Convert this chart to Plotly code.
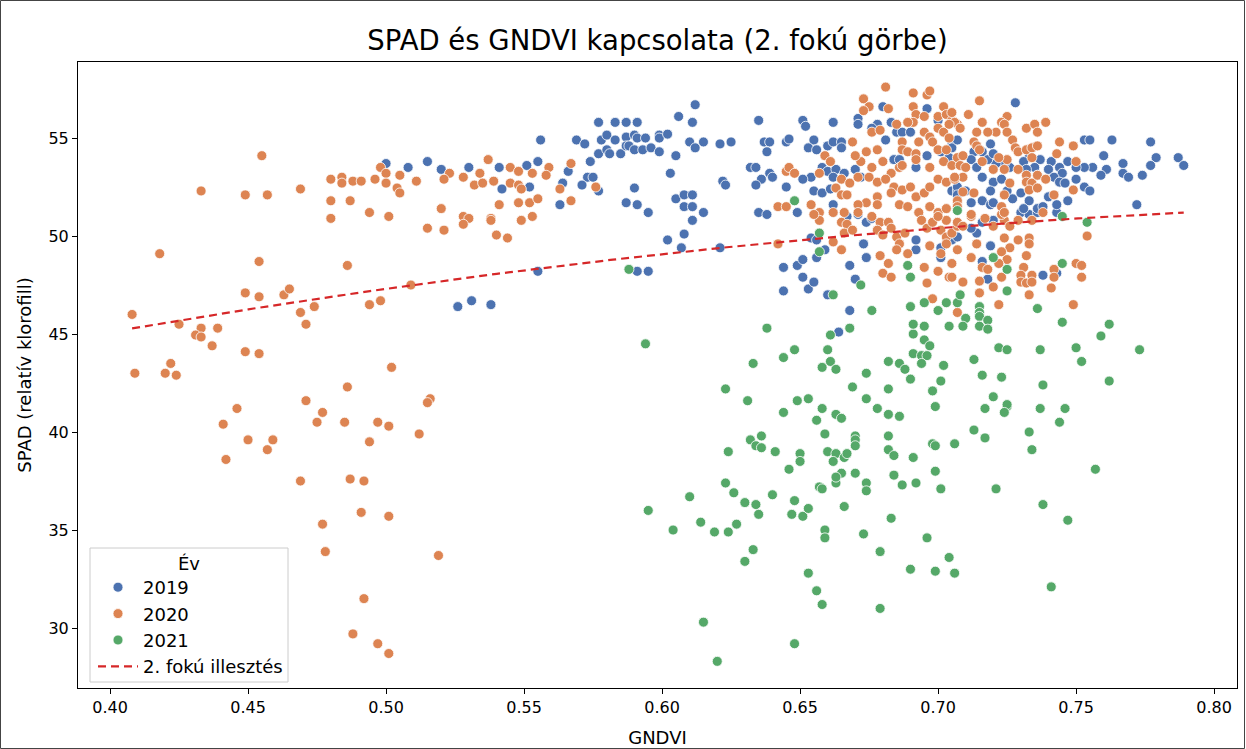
import numpy as np
import plotly.graph_objects as go

# (GNDVI, SPAD) measurements per year
pts_2019 = [
    (0.500, 53.7), (0.508, 53.5), (0.515, 53.8), (0.520, 53.4), (0.530, 53.5), (0.541, 53.5),
    (0.542, 52.4), (0.552, 52.5), (0.551, 53.6), (0.555, 53.8), (0.556, 54.9), (0.564, 52.7),
    (0.566, 53.3), (0.563, 51.6), (0.526, 46.4), (0.531, 46.7), (0.538, 46.5), (0.555, 48.2),
    (0.612, 56.7), (0.606, 56.1), (0.611, 55.8), (0.577, 55.8), (0.583, 55.8), (0.587, 55.8),
    (0.591, 55.8), (0.635, 55.9), (0.651, 55.9),
    (0.569, 54.9), (0.572, 54.7), (0.578, 54.9), (0.580, 55.15), (0.583, 54.9), (0.587, 55.05),
    (0.590, 55.15), (0.591, 55.0), (0.594, 55.0), (0.599, 55.15), (0.599, 55.0), (0.602, 55.2),
    (0.577, 54.2), (0.580, 54.4), (0.581, 54.2), (0.585, 54.2), (0.587, 54.6), (0.588, 54.6),
    (0.590, 54.4), (0.593, 54.4), (0.596, 54.5), (0.599, 54.3),
    (0.605, 54.1), (0.610, 54.8), (0.612, 54.5), (0.615, 54.8), (0.621, 54.7), (0.625, 54.8),
    (0.637, 54.8), (0.639, 54.8), (0.638, 54.3), (0.645, 54.8), (0.646, 54.95),
    (0.574, 53.8), (0.573, 53.0), (0.575, 53.0), (0.571, 52.6), (0.577, 52.3),
    (0.590, 52.45), (0.587, 51.7), (0.591, 51.6), (0.595, 51.2), (0.603, 53.2),
    (0.605, 51.9), (0.608, 52.1), (0.611, 52.1), (0.608, 51.5), (0.611, 51.5), (0.615, 51.2),
    (0.611, 50.8), (0.608, 50.1), (0.602, 49.8), (0.607, 49.4), (0.621, 49.4),
    (0.622, 52.8), (0.623, 52.6), (0.632, 53.5), (0.634, 53.5), (0.639, 53.2), (0.640, 53.0),
    (0.636, 52.9), (0.634, 52.6), (0.645, 52.5), (0.635, 51.2), (0.638, 51.1),
    (0.644, 48.4), (0.649, 48.5), (0.644, 47.2), (0.591, 48.2), (0.595, 48.2),
    (0.651, 47.9), (0.653, 47.3), (0.664, 45.1),
    (0.651, 48.8), (0.655, 47.65), (0.656, 48.9), (0.659, 49.3), (0.668, 48.5), (0.674, 48.9),
    (0.670, 47.8), (0.660, 47.0), (0.668, 46.2), (0.673, 49.6),
    (0.692, 49.3), (0.701, 49.4), (0.705, 49.8), (0.654, 49.9), (0.656, 49.8), (0.692, 49.8),
    (0.701, 48.9), (0.649, 51.2),
    (0.662, 51.2), (0.667, 51.0), (0.671, 51.1), (0.674, 50.7), (0.676, 50.9),
    (0.714, 50.15), (0.712, 50.4), (0.707, 49.95), (0.719, 49.5), (0.738, 48.0), (0.716, 48.7),
    (0.718, 47.8), (0.743, 48.1),
    (0.716, 50.7), (0.720, 50.8), (0.730, 51.2), (0.733, 51.1), (0.736, 51.2), (0.743, 51.2),
    (0.763, 54.9), (0.777, 54.8), (0.760, 54.1), (0.761, 53.4), (0.759, 53.1), (0.767, 53.7),
    (0.767, 53.2), (0.769, 53.0), (0.774, 53.1), (0.779, 54.0), (0.777, 53.6), (0.787, 54.0),
    (0.789, 53.6), (0.772, 51.6),
    (0.728, 56.8), (0.753, 54.9), (0.755, 54.9), (0.756, 53.5), (0.753, 53.5), (0.747, 53.8),
    (0.750, 53.5), (0.744, 53.5), (0.745, 53.2), (0.741, 53.8), (0.740, 53.4), (0.742, 53.0),
    (0.744, 52.75), (0.746, 52.7), (0.750, 52.9), (0.753, 52.5), (0.755, 52.3), (0.747, 51.8),
    (0.743, 51.6),
    (0.737, 53.9), (0.735, 53.5), (0.736, 53.1), (0.733, 54.0), (0.731, 53.8), (0.732, 53.4),
    (0.726, 53.5), (0.724, 53.7), (0.721, 53.7), (0.719, 54.7), (0.716, 54.3), (0.718, 53.9),
    (0.720, 54.2), (0.713, 54.3), (0.712, 53.9), (0.714, 53.5), (0.705, 54.8), (0.705, 54.5),
    (0.707, 53.7), (0.705, 52.3), (0.707, 52.3), (0.710, 52.3),
    (0.716, 53.0), (0.720, 52.75), (0.719, 52.3), (0.723, 52.9), (0.725, 52.3), (0.727, 51.9),
    (0.730, 52.2), (0.733, 51.8), (0.736, 51.4), (0.740, 52.0), (0.738, 51.5), (0.712, 51.7),
    (0.716, 51.8), (0.719, 51.6), (0.720, 51.7), (0.731, 51.4),
    (0.652, 55.6), (0.662, 55.8), (0.671, 56.0), (0.671, 55.7), (0.675, 56.6), (0.680, 56.6),
    (0.696, 56.5), (0.700, 55.9), (0.655, 54.9), (0.653, 54.5), (0.656, 54.4), (0.660, 54.6),
    (0.662, 54.8), (0.665, 54.8), (0.665, 54.5), (0.681, 54.9), (0.683, 55.8), (0.678, 55.7),
    (0.676, 55.5), (0.685, 55.3), (0.687, 55.3), (0.690, 55.3), (0.658, 53.5), (0.660, 53.3),
    (0.663, 53.4), (0.666, 53.2), (0.670, 53.4), (0.672, 53.0), (0.654, 53.0), (0.651, 52.9),
    (0.662, 53.0), (0.655, 52.3), (0.658, 52.2), (0.661, 52.4), (0.662, 51.6), (0.684, 53.9),
    (0.686, 53.9), (0.696, 54.1), (0.692, 53.5), (0.707, 54.9), (0.701, 54.3), (0.704, 54.0),
    (0.707, 52.5), (0.707, 52.1),
]

pts_2020 = [
    (0.455, 54.1), (0.433, 52.3), (0.449, 52.1), (0.457, 52.1), (0.469, 52.4), (0.480, 52.9),
    (0.480, 51.8), (0.480, 50.9), (0.418, 49.1), (0.454, 48.7), (0.449, 47.1), (0.454, 46.9),
    (0.463, 47.0), (0.465, 47.3), (0.408, 46.0), (0.469, 46.1), (0.474, 46.4), (0.471, 45.5),
    (0.425, 45.5), (0.433, 45.3), (0.439, 45.3), (0.431, 44.95), (0.433, 44.85), (0.437, 44.4),
    (0.449, 44.1), (0.454, 44.0), (0.409, 43.0), (0.420, 43.0), (0.424, 42.9), (0.422, 43.5),
    (0.471, 41.6), (0.477, 41.0), (0.475, 40.5), (0.446, 41.2), (0.441, 40.4), (0.450, 39.6),
    (0.459, 39.6), (0.457, 39.1), (0.442, 38.6), (0.469, 37.5), (0.477, 35.3), (0.478, 33.9),
    (0.502, 43.3), (0.486, 42.3), (0.516, 41.7), (0.515, 41.5), (0.485, 40.5), (0.497, 40.5),
    (0.501, 40.3), (0.494, 39.5), (0.512, 39.9), (0.487, 37.6), (0.492, 37.5), (0.491, 35.9),
    (0.501, 35.7), (0.519, 33.7), (0.492, 31.5), (0.488, 29.7), (0.497, 29.2), (0.501, 28.7),
    (0.486, 48.5),
    (0.484, 53.0), (0.484, 52.7), (0.488, 52.8), (0.491, 52.8), (0.487, 51.8), (0.494, 51.2),
    (0.501, 51.0), (0.496, 52.9), (0.498, 53.5), (0.500, 53.2), (0.500, 52.7), (0.505, 53.1),
    (0.504, 52.45), (0.505, 52.2), (0.511, 52.8), (0.523, 53.2), (0.521, 52.9), (0.528, 53.0),
    (0.534, 53.2), (0.532, 52.6), (0.535, 52.7), (0.537, 53.9), (0.539, 52.8), (0.545, 53.5),
    (0.548, 53.3), (0.545, 52.7), (0.548, 52.6), (0.549, 52.4), (0.553, 53.2), (0.559, 53.5),
    (0.558, 53.1), (0.563, 52.4), (0.567, 51.8), (0.567, 53.7),
    (0.520, 51.4), (0.515, 50.4), (0.521, 50.3), (0.528, 51.0), (0.530, 50.9), (0.528, 50.6),
    (0.538, 50.9), (0.538, 50.8), (0.541, 51.6), (0.540, 50.05), (0.544, 49.9), (0.548, 51.7),
    (0.552, 51.7), (0.555, 51.9), (0.549, 50.8), (0.553, 51.0),
    (0.494, 46.5), (0.498, 46.7), (0.509, 47.5),
    (0.576, 52.5), (0.645, 53.3), (0.646, 53.5), (0.642, 51.5), (0.645, 51.5), (0.642, 49.6),
    (0.681, 57.6), (0.691, 57.3), (0.696, 57.2), (0.697, 57.4), (0.673, 57.0), (0.675, 56.6),
    (0.673, 56.4), (0.682, 56.5), (0.691, 56.6), (0.702, 56.6), (0.692, 56.2), (0.695, 56.1),
    (0.691, 55.8), (0.689, 55.8), (0.685, 55.7), (0.700, 56.1), (0.703, 56.2), (0.705, 55.9),
    (0.707, 55.7), (0.676, 55.3), (0.679, 55.4), (0.695, 55.3), (0.697, 55.05), (0.700, 55.5),
    (0.702, 55.3), (0.704, 55.0), (0.669, 54.8), (0.674, 54.3), (0.678, 54.4), (0.672, 53.8),
    (0.670, 54.1), (0.659, 54.1), (0.661, 53.8), (0.687, 54.8), (0.687, 54.4), (0.689, 54.3),
    (0.693, 54.8), (0.692, 54.2), (0.692, 53.9), (0.698, 54.8), (0.700, 54.4), (0.703, 54.4),
    (0.702, 53.8), (0.697, 53.5), (0.705, 53.6), (0.707, 54.0), (0.680, 53.8), (0.676, 53.5),
    (0.683, 53.2), (0.686, 53.5), (0.687, 53.6), (0.648, 53.2), (0.657, 53.2), (0.665, 52.9),
    (0.668, 52.7), (0.671, 53.0), (0.675, 53.0), (0.678, 52.75), (0.681, 52.9), (0.684, 52.5),
    (0.683, 52.2), (0.663, 52.45), (0.665, 52.1), (0.667, 52.1), (0.678, 52.0), (0.674, 51.7),
    (0.678, 51.6), (0.671, 51.6), (0.687, 52.35), (0.690, 52.5), (0.692, 52.0), (0.695, 52.2),
    (0.697, 52.5), (0.700, 52.9), (0.703, 52.75), (0.706, 52.9), (0.686, 51.6), (0.689, 51.5),
    (0.693, 51.2), (0.697, 51.5), (0.700, 51.2), (0.703, 51.4), (0.707, 51.7), (0.654, 51.6),
    (0.657, 51.2), (0.662, 51.2), (0.666, 51.2), (0.671, 51.2),
    (0.657, 50.8), (0.655, 51.1), (0.665, 50.7), (0.667, 50.6), (0.666, 50.15), (0.669, 50.3),
    (0.676, 51.0), (0.679, 50.7), (0.682, 50.7), (0.678, 50.3), (0.683, 50.4), (0.680, 50.05),
    (0.685, 49.95), (0.688, 50.15), (0.686, 49.6), (0.694, 50.8), (0.696, 50.4), (0.698, 50.7),
    (0.701, 50.3), (0.703, 49.95), (0.705, 50.15), (0.707, 50.5), (0.703, 50.8), (0.700, 51.0),
    (0.662, 49.7), (0.665, 49.3), (0.679, 49.0), (0.682, 48.6), (0.680, 48.1), (0.683, 47.9),
    (0.685, 49.3), (0.689, 49.1), (0.695, 48.4), (0.697, 49.5), (0.701, 49.1), (0.703, 49.6),
    (0.696, 47.6), (0.698, 46.8), (0.700, 48.2), (0.704, 47.9), (0.707, 46.1),
    (0.754, 50.0), (0.750, 48.6), (0.752, 48.5), (0.752, 47.9), (0.749, 46.5), (0.733, 49.9),
    (0.733, 49.6), (0.732, 49.0), (0.729, 49.8), (0.724, 49.9), (0.726, 49.4), (0.723, 49.2),
    (0.725, 48.8), (0.722, 48.6), (0.714, 49.6), (0.707, 49.3), (0.712, 48.9), (0.716, 48.4),
    (0.718, 48.3), (0.723, 47.9), (0.720, 47.4), (0.715, 47.7), (0.715, 47.1), (0.731, 48.4),
    (0.730, 48.0), (0.730, 47.65), (0.732, 47.6), (0.733, 47.0), (0.734, 48.0), (0.734, 47.65),
    (0.742, 48.3), (0.742, 47.9), (0.741, 47.35), (0.705, 48.6), (0.705, 47.9), (0.709, 47.65),
    (0.722, 46.5),
    (0.707, 50.7), (0.712, 51.0), (0.709, 50.5), (0.720, 50.5), (0.724, 50.8), (0.726, 50.5),
    (0.729, 50.8), (0.723, 51.1), (0.738, 51.2), (0.734, 50.8),
    (0.715, 56.9), (0.711, 56.2), (0.725, 56.1), (0.723, 55.8), (0.724, 55.7), (0.721, 55.3),
    (0.718, 55.3), (0.716, 55.8), (0.714, 55.3), (0.713, 54.8), (0.705, 56.3), (0.706, 55.8),
    (0.708, 55.5), (0.704, 55.7), (0.732, 55.5), (0.735, 55.7), (0.739, 55.8), (0.736, 55.3),
    (0.725, 55.3), (0.727, 54.9), (0.728, 54.5), (0.729, 54.3), (0.732, 54.4), (0.734, 54.5),
    (0.736, 54.6), (0.734, 54.0), (0.744, 54.8), (0.743, 54.2), (0.749, 54.6), (0.750, 53.8),
    (0.714, 54.6), (0.715, 54.4), (0.716, 53.8), (0.709, 54.1), (0.708, 53.6), (0.710, 53.5),
    (0.709, 53.0), (0.706, 53.0), (0.720, 53.4), (0.724, 53.4), (0.725, 53.9), (0.722, 54.0),
    (0.729, 53.4), (0.732, 53.1), (0.732, 52.75), (0.734, 52.7), (0.736, 53.1), (0.726, 52.7),
    (0.724, 52.1), (0.733, 52.35), (0.736, 52.45), (0.739, 52.9), (0.713, 52.2), (0.709, 52.25),
    (0.707, 51.8), (0.707, 51.5), (0.742, 52.1), (0.749, 52.35), (0.723, 51.5), (0.724, 51.2),
    (0.712, 51.1), (0.717, 50.9),
]

pts_2021 = [
    (0.648, 51.8), (0.588, 48.3),
    (0.594, 44.5), (0.638, 45.3), (0.648, 44.2), (0.644, 43.8), (0.633, 43.5), (0.623, 42.2),
    (0.631, 41.6), (0.644, 41.0), (0.649, 41.6), (0.653, 41.7), (0.632, 39.6), (0.636, 39.8),
    (0.634, 39.3), (0.636, 39.2), (0.624, 39.0), (0.641, 39.0), (0.650, 38.9), (0.650, 38.5),
    (0.646, 38.1), (0.623, 37.4), (0.626, 36.9), (0.610, 36.7), (0.595, 36.0), (0.630, 36.4),
    (0.634, 36.3), (0.635, 35.8), (0.640, 36.8), (0.648, 36.5), (0.647, 35.8), (0.651, 35.7),
    (0.653, 36.1), (0.604, 35.0), (0.614, 35.4), (0.619, 34.9), (0.624, 34.9), (0.627, 35.3),
    (0.633, 34.0), (0.630, 33.4), (0.615, 30.3), (0.648, 29.2), (0.620, 28.3), (0.653, 32.8),
    (0.661, 44.95), (0.660, 44.2), (0.661, 43.6), (0.658, 43.3), (0.663, 43.2), (0.691, 45.0),
    (0.695, 44.7), (0.697, 44.4), (0.691, 44.0), (0.694, 43.9), (0.696, 43.9), (0.694, 43.5),
    (0.682, 43.6), (0.686, 43.5), (0.688, 43.2), (0.674, 43.0), (0.690, 42.7), (0.702, 43.4),
    (0.701, 42.6), (0.698, 42.1), (0.713, 43.7), (0.722, 44.3), (0.725, 44.2), (0.737, 44.2),
    (0.750, 44.3), (0.752, 43.6), (0.759, 44.9), (0.773, 44.2), (0.716, 42.9), (0.723, 42.8),
    (0.738, 42.4), (0.762, 42.6), (0.669, 42.3), (0.682, 42.2),
    (0.674, 41.7), (0.678, 41.2), (0.699, 41.3), (0.720, 41.8), (0.717, 41.2), (0.725, 41.3),
    (0.725, 41.4), (0.724, 41.0), (0.737, 41.2), (0.746, 41.2), (0.744, 40.5), (0.658, 41.2),
    (0.656, 40.6), (0.663, 40.9), (0.665, 40.7), (0.682, 40.9), (0.686, 40.8), (0.659, 39.9),
    (0.670, 39.8), (0.670, 39.6), (0.670, 39.3), (0.682, 39.8), (0.713, 40.1), (0.717, 39.7),
    (0.733, 40.0), (0.734, 39.1), (0.698, 39.4), (0.699, 39.3), (0.706, 39.4), (0.757, 38.1),
    (0.660, 39.0), (0.663, 38.9), (0.666, 38.7), (0.667, 38.9), (0.662, 38.5), (0.682, 39.1),
    (0.684, 38.8), (0.691, 38.7), (0.665, 37.9), (0.663, 37.4), (0.663, 37.7), (0.670, 37.9),
    (0.684, 37.8), (0.687, 37.3), (0.674, 37.4), (0.674, 37.0), (0.692, 37.4), (0.699, 38.0),
    (0.701, 37.1), (0.657, 37.2), (0.658, 37.1), (0.721, 37.1), (0.738, 36.3), (0.747, 35.5),
    (0.666, 36.2), (0.683, 35.6), (0.659, 35.0), (0.659, 34.6), (0.673, 34.8), (0.696, 34.6),
    (0.679, 33.9), (0.704, 33.6), (0.699, 32.9), (0.706, 32.8), (0.690, 33.0), (0.741, 32.1),
    (0.656, 31.9), (0.658, 31.2), (0.679, 31.0),
    (0.657, 50.15), (0.657, 49.2), (0.672, 47.5), (0.662, 47.0), (0.676, 46.2), (0.668, 45.3),
    (0.689, 48.5), (0.690, 47.9), (0.695, 46.6), (0.700, 46.2), (0.703, 46.6), (0.707, 46.6),
    (0.690, 46.4), (0.691, 45.5), (0.695, 45.4), (0.704, 45.4),
    (0.720, 48.9), (0.725, 48.3), (0.725, 47.2), (0.745, 48.6), (0.754, 50.7), (0.745, 51.0),
    (0.736, 46.3), (0.708, 47.0), (0.710, 45.8), (0.709, 45.4), (0.715, 46.4), (0.715, 46.1),
    (0.715, 45.9), (0.718, 45.7), (0.715, 45.4), (0.718, 45.25), (0.745, 45.6), (0.762, 45.5),
    (0.707, 51.3),
]

# points on the published quadratic fit curve (GNDVI, SPAD)
fit_gndvi = [0.408, 0.482, 0.509, 0.563, 0.621, 0.646, 0.706, 0.766, 0.788]
fit_spad = [45.3, 46.9, 47.5, 48.5, 49.4, 49.7, 50.5, 51.0, 51.2]

years = ["2019", "2020", "2021"]
colors = {"2019": "#4C72B0", "2020": "#DD8452", "2021": "#55A868"}
series = {"2019": pts_2019, "2020": pts_2020, "2021": pts_2021}

x_ticks = [0.40, 0.45, 0.50, 0.55, 0.60, 0.65, 0.70, 0.75, 0.80]
y_ticks = [30, 35, 40, 45, 50, 55]

FONT = "DejaVu Sans"

fig = go.Figure()
for yr in years:
    g, s = zip(*series[yr])
    fig.add_trace(go.Scatter(
        x=list(g), y=list(s), mode="markers", name=yr,
        marker=dict(size=10, color=colors[yr], line=dict(color="white", width=0.8)),
    ))

# smooth second-degree curve through the fit values, across the GNDVI range of the data
coef = np.polyfit(fit_gndvi, fit_spad, 2)
all_g = np.array([p[0] for yr in years for p in series[yr]])
xs = np.linspace(all_g.min(), all_g.max(), 200)
fig.add_trace(go.Scatter(
    x=xs, y=np.polyval(coef, xs), mode="lines", name="2. fokú illesztés",
    line=dict(color="#d62728", width=2.2, dash="8px,5px"),
))

W, H = 1246, 749
L, R, T, B = 78, 9, 62, 61
pw, ph = W - L - R, H - T - B


def px_x(px):
    """pixel column -> paper x"""
    return (px - L) / pw


def px_y(py):
    """pixel row -> paper y"""
    return (H - B - py) / ph


fig.update_layout(
    width=W, height=H,
    margin=dict(l=L, r=R, t=T, b=B),
    paper_bgcolor="white", plot_bgcolor="white",
    font=dict(family=FONT, size=16, color="black"),
    title=dict(text="SPAD és GNDVI kapcsolata (2. fokú görbe)", xref="paper", x=0.5,
               xanchor="center", y=1 - 40 / H, yanchor="middle",
               font=dict(size=27.5, family=FONT, color="black")),
    xaxis=dict(range=[0.3884, 0.8083], tickvals=x_ticks, ticktext=[f"{v:.2f}" for v in x_ticks],
               showgrid=False, zeroline=False, showline=True, mirror=True, linecolor="black",
               linewidth=1, ticks="outside", ticklen=5, tickcolor="black",
               tickfont=dict(size=16), automargin=False,
               title=dict(text="GNDVI", standoff=15, font=dict(size=18))),
    yaxis=dict(range=[26.94, 58.88], tickvals=y_ticks, ticktext=[str(v) for v in y_ticks],
               showgrid=False, zeroline=False, showline=True, mirror=True, linecolor="black",
               linewidth=1, ticks="outside", ticklen=5, tickcolor="black",
               tickfont=dict(size=16), automargin=False,
               title=dict(text="SPAD (relatív klorofill)", standoff=12, font=dict(size=18))),
    legend=dict(x=px_x(93), y=px_y(569), xanchor="left", yanchor="top",
                bgcolor="rgba(0,0,0,0)", borderwidth=0,
                itemwidth=40, font=dict(size=18, family=FONT)),
    showlegend=True,
)

# legend frame and its title
fig.add_shape(type="rect", xref="paper", yref="paper",
              x0=px_x(90), x1=px_x(288), y0=px_y(682), y1=px_y(548),
              line=dict(color="#cccccc", width=1), fillcolor="rgba(255,255,255,0.8)",
              layer="below")
fig.add_annotation(text="Év", xref="paper", yref="paper", x=px_x(189), y=px_y(563),
                   xanchor="center", yanchor="middle", showarrow=False,
                   font=dict(size=18, family=FONT, color="black"))

# thin outer frame around the whole figure
fig.add_shape(type="rect", xref="paper", yref="paper",
              x0=px_x(0.5), x1=px_x(W - 1.5), y0=px_y(H - 0.5), y1=px_y(0.5),
              line=dict(color="#444444", width=1), fillcolor="rgba(0,0,0,0)", layer="above")

fig.write_html("out.html")
